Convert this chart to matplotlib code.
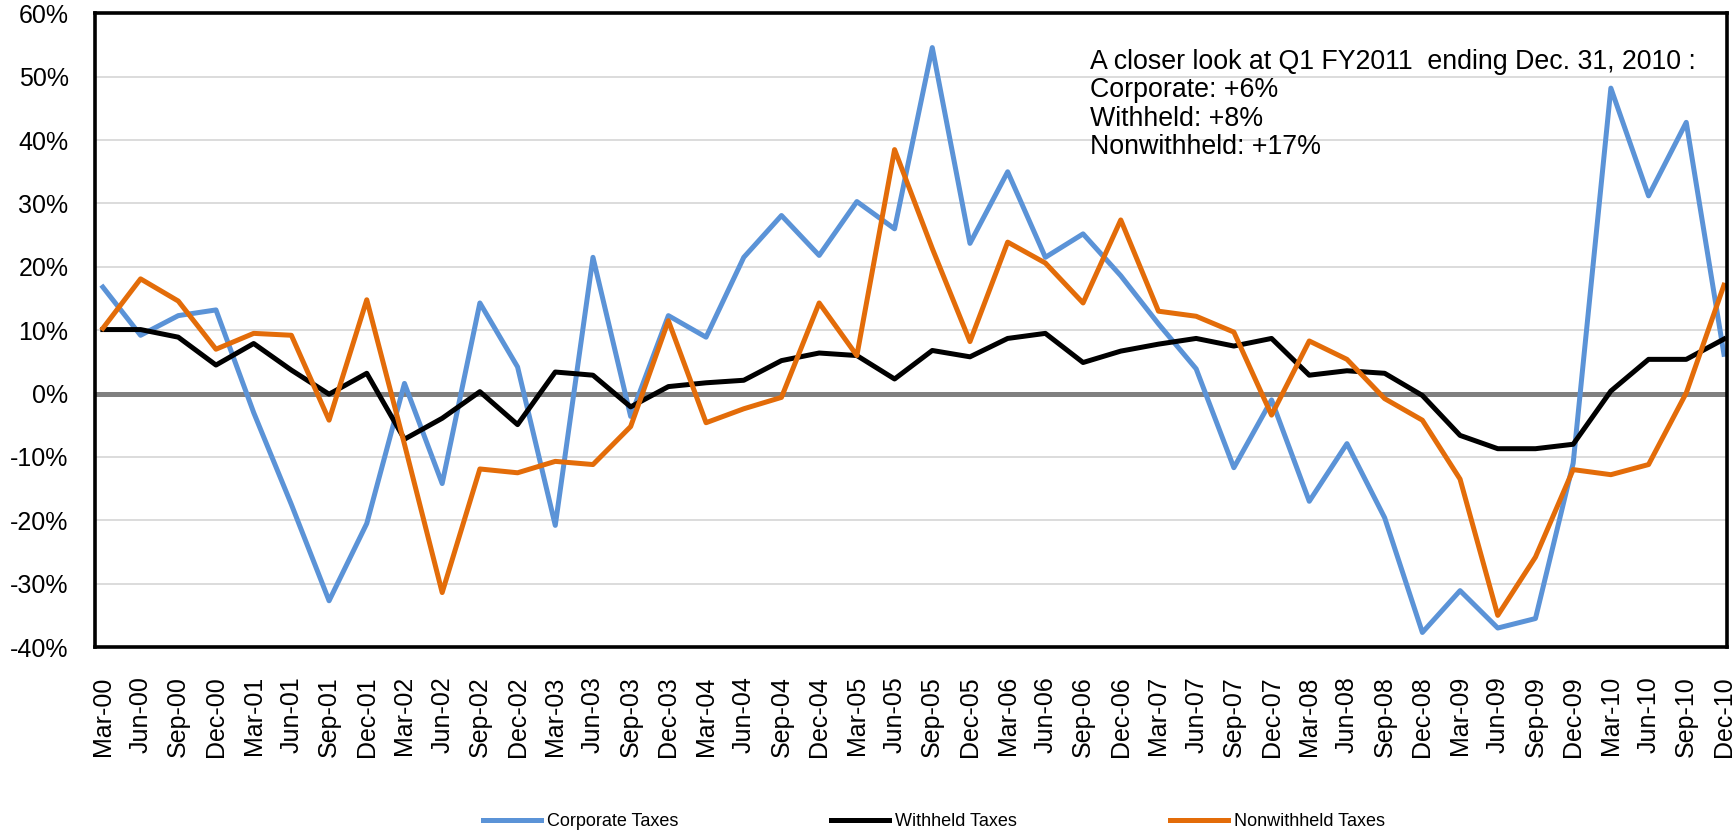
import matplotlib
matplotlib.use("Agg")
import matplotlib.pyplot as plt
from matplotlib.ticker import FuncFormatter

plt.rcParams["font.family"] = ["Liberation Sans", "DejaVu Sans"]

quarters = [f"{m}-{y:02d}" for y in range(0, 11) for m in ["Mar", "Jun", "Sep", "Dec"]]

corporate = [16.8, 9.2, 12.3, 13.2, -3.0, -17.5, -32.7, -20.5, 1.6, -14.2, 14.3, 4.2,
             -20.8, 21.5, -3.6, 12.3, 8.9, 21.5, 28.1, 21.8, 30.3, 26.0, 54.6, 23.7,
             35.0, 21.5, 25.2, 18.6, 11.0, 3.9, -11.7, -1.0, -17.0, -7.9, -19.6, -37.7,
             -31.1, -37.0, -35.5, -11.0, 48.2, 31.2, 42.8, 6.2]
withheld = [10.1, 10.1, 8.9, 4.5, 7.9, 3.7, -0.1, 3.2, -7.2, -3.9, 0.3, -4.9,
            3.4, 2.9, -2.1, 1.1, 1.7, 2.1, 5.2, 6.4, 6.0, 2.3, 6.8, 5.8,
            8.7, 9.5, 4.9, 6.7, 7.8, 8.7, 7.5, 8.7, 2.9, 3.6, 3.2, -0.3,
            -6.6, -8.7, -8.7, -8.0, 0.4, 5.4, 5.4, 8.6]
nonwithheld = [10.3, 18.1, 14.6, 7.0, 9.5, 9.2, -4.2, 14.8, -8.0, -31.4, -11.9, -12.5,
               -10.7, -11.2, -5.2, 11.5, -4.6, -2.4, -0.6, 14.3, 6.0, 38.5, 22.9, 8.2,
               23.9, 20.6, 14.3, 27.4, 13.0, 12.2, 9.7, -3.4, 8.3, 5.4, -0.8, -4.2,
               -13.5, -35.0, -25.8, -12.0, -12.8, -11.2, 0.1, 17.1]

note_lines = ["A closer look at Q1 FY2011  ending Dec. 31, 2010 :",
              "Corporate: +6%",
              "Withheld: +8%",
              "Nonwithheld: +17%"]

BLUE = "#5B93D7"
ORANGE = "#E36C09"

fig = plt.figure(figsize=(17.36, 8.35), dpi=100)
ax = fig.add_axes([0.0547, 0.2251, 0.9401, 0.7589])

x = list(range(len(quarters)))
ax.axhline(0, color="#808080", lw=3.6, zorder=1.5)
l1, = ax.plot(x, corporate, color=BLUE, lw=3.6, label="Corporate Taxes", zorder=3)
l2, = ax.plot(x, withheld, color="black", lw=3.6, label="Withheld Taxes", zorder=3)
l3, = ax.plot(x, nonwithheld, color=ORANGE, lw=3.6, label="Nonwithheld Taxes", zorder=3)

ax.set_xlim(-0.21, 43.08)
ax.set_ylim(-40, 60)
ax.set_yticks(range(-40, 61, 10))
ax.yaxis.set_major_formatter(FuncFormatter(lambda v, p: f"{v:.0f}%"))
ax.set_xticks(x)
ax.set_xticklabels(quarters, rotation=90, fontsize=18)
ax.tick_params(axis="y", labelsize=18, length=0, pad=19)
ax.tick_params(axis="x", length=0, pad=21)
ax.grid(axis="y", color="#d9d9d9", lw=1.3, zorder=1)
ax.set_axisbelow(True)
for s in ax.spines.values():
    s.set_linewidth(2.6)
    s.set_zorder(4)

# annotation block, one line at a time
for i, line in enumerate(note_lines):
    ax.text(0.6097, 0.912 - i * 0.0447, line, transform=ax.transAxes,
            fontsize=19.3, va="baseline", ha="left")

fig.legend(handles=[l1, l2, l3], loc="center", bbox_to_anchor=(0.538, 0.016),
           ncol=3, frameon=False, handlelength=3.2, handletextpad=0.33,
           columnspacing=8.5, fontsize=13)

fig.savefig("out.png", dpi=100)
